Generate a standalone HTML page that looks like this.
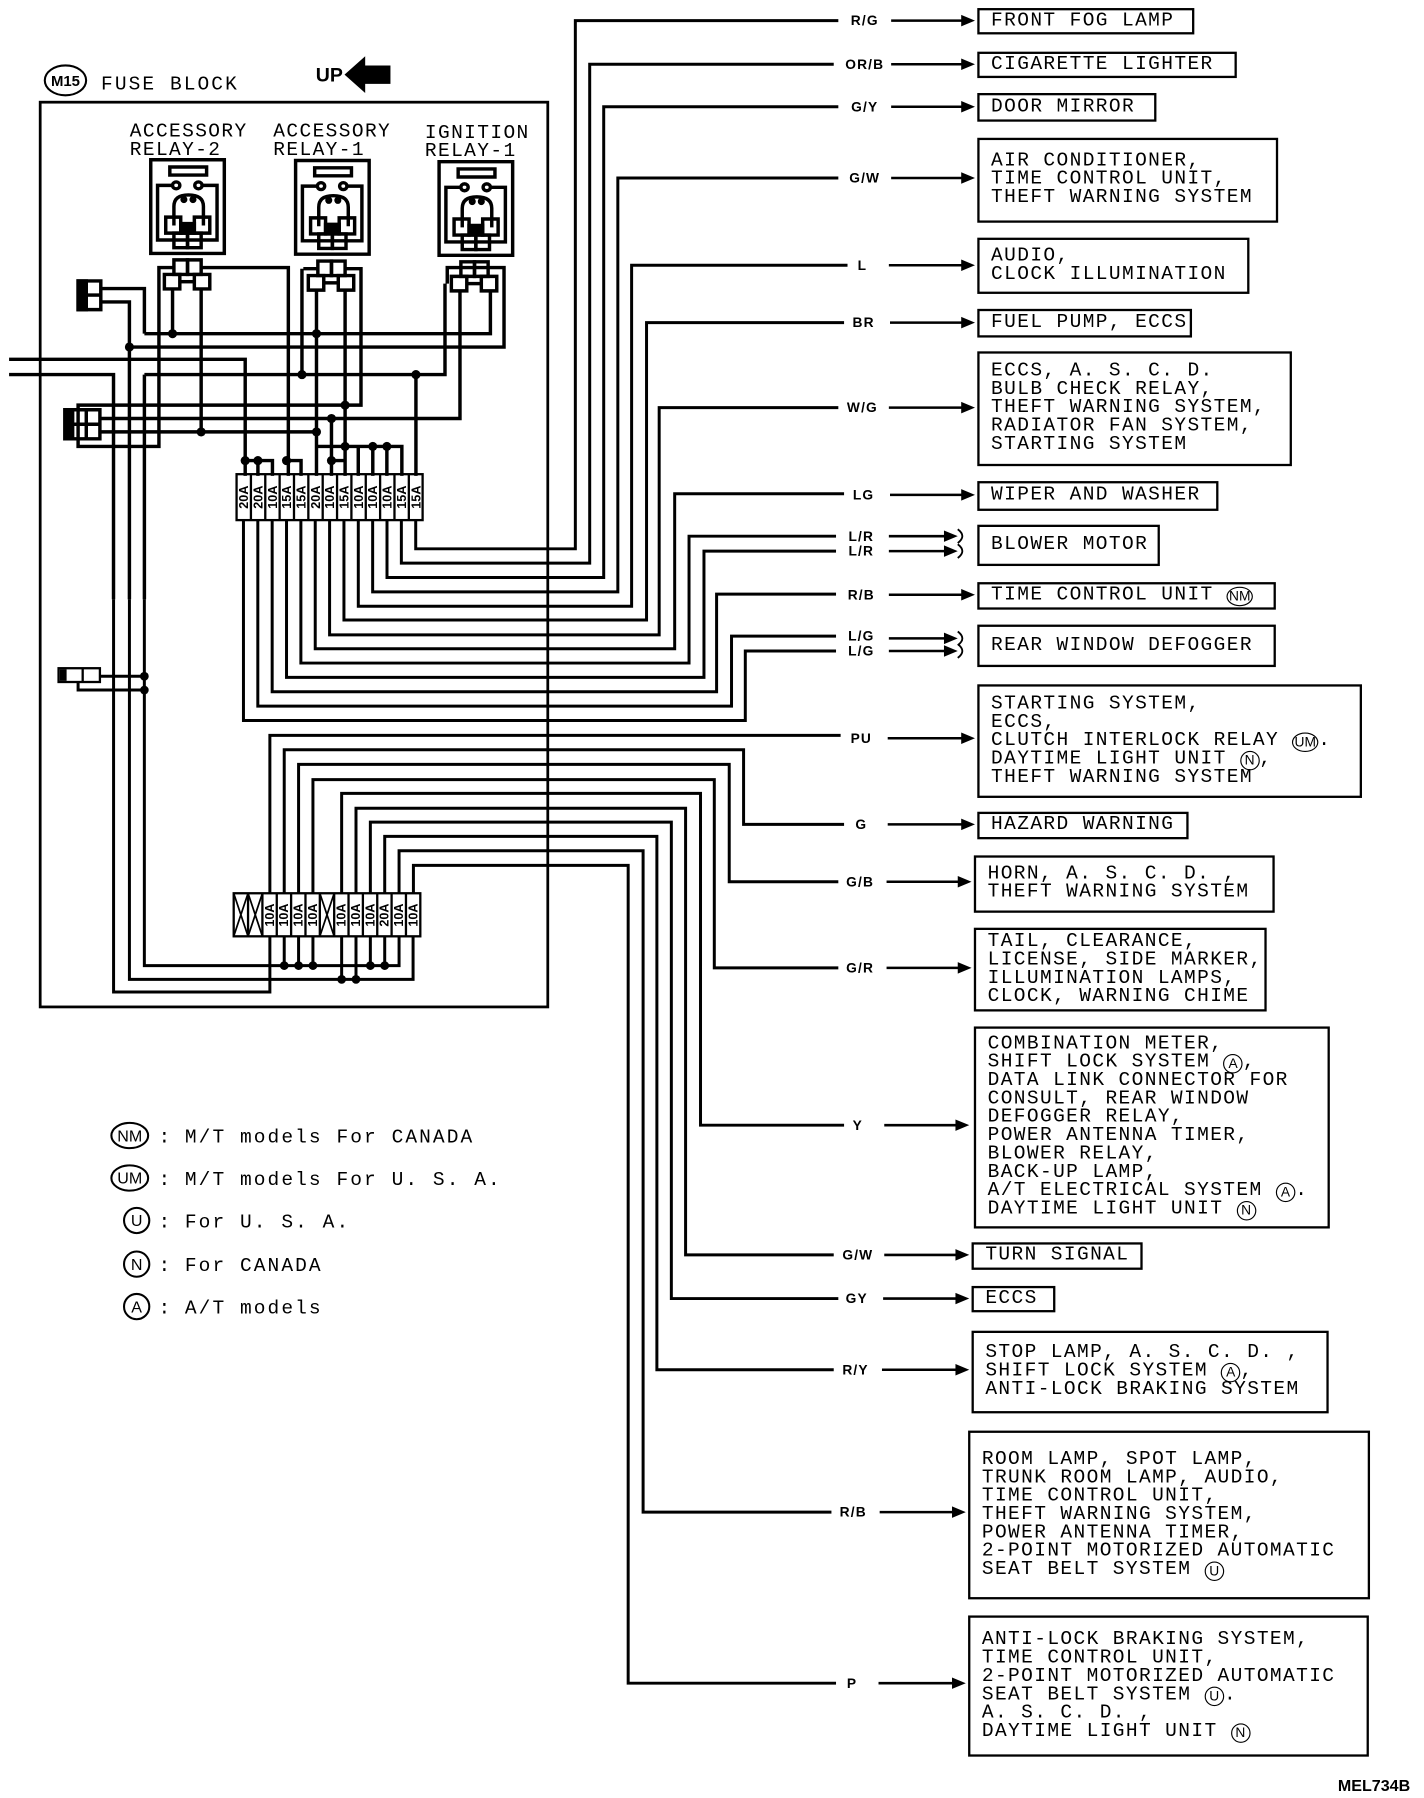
<!DOCTYPE html>
<html><head><meta charset="utf-8"><style>
html,body{margin:0;padding:0;background:#fff;width:1424px;height:1798px;overflow:hidden}
#c{position:absolute;left:0;top:0;width:1240px;height:1566px;transform:scale(1.14839,1.14815);transform-origin:0 0}
svg{position:absolute;left:0;top:0}
.b{position:absolute;border:2px solid #000;box-sizing:border-box;display:flex;flex-direction:column;justify-content:center;padding-left:10px;font-family:"Liberation Mono",monospace;font-size:17px;letter-spacing:1.2px;line-height:16px;color:#000}
.b>div{white-space:pre;height:16px}
.k{display:inline-block;border:1.5px solid #000;border-radius:50%;min-width:13px;height:15px;line-height:15px;font-size:12px;text-align:center;letter-spacing:0;padding:0 1px;vertical-align:top;font-family:"Liberation Sans",sans-serif}
.wl{font-family:"Liberation Sans",sans-serif;font-weight:bold;font-size:12px;letter-spacing:1px}
.ft{font-family:"Liberation Sans",sans-serif;font-weight:bold;font-size:11px}
.lg{font-family:"Liberation Mono",monospace;font-size:17px;letter-spacing:1.8px}
</style></head><body><div id="c">
<svg width="1240" height="1566" viewBox="0 0 1240 1566">
<defs>
<g id="rl" fill="none" stroke="#000" stroke-width="3">
<rect x="332" y="418" width="162" height="245" vector-effect="non-scaling-stroke"/>
<rect x="374" y="437" width="81" height="21" vector-effect="non-scaling-stroke"/>
<ellipse cx="388" cy="485" rx="8" ry="9" vector-effect="non-scaling-stroke"/>
<ellipse cx="437" cy="485" rx="8" ry="9" vector-effect="non-scaling-stroke"/>
<path d="M380 485 H347 V628 H478 V485 H445 M383 590 V540 Q383 510 415 510 Q448 510 448 540 V590" vector-effect="non-scaling-stroke"/>
<rect x="365" y="568" width="33" height="42" vector-effect="non-scaling-stroke"/>
<rect x="428" y="568" width="34" height="42" vector-effect="non-scaling-stroke"/>
<rect x="398" y="585" width="30" height="25" fill="#000" vector-effect="non-scaling-stroke"/>
<rect x="383" y="610" width="30" height="38" vector-effect="non-scaling-stroke"/>
<rect x="413" y="610" width="30" height="38" vector-effect="non-scaling-stroke"/>
<ellipse cx="405" cy="522" rx="4" ry="5" vector-effect="non-scaling-stroke"/>
<ellipse cx="425" cy="522" rx="4" ry="5" vector-effect="non-scaling-stroke"/>
</g>
<g id="cn" fill="none" stroke="#000" stroke-width="3">
<rect x="383" y="680" width="30" height="38" vector-effect="non-scaling-stroke"/>
<rect x="413" y="680" width="30" height="38" vector-effect="non-scaling-stroke"/>
<rect x="362" y="718" width="34" height="38" vector-effect="non-scaling-stroke"/>
<rect x="428" y="718" width="34" height="38" vector-effect="non-scaling-stroke"/>
<path d="M396 737 H428" vector-effect="non-scaling-stroke"/>
</g>
</defs>

<ellipse cx="57" cy="70" rx="18" ry="13" fill="none" stroke="#000" stroke-width="1.8"/>
<text x="57" y="75" text-anchor="middle" font-family="Liberation Sans,sans-serif" font-size="13" font-weight="bold">M15</text>
<text x="88" y="78" class="lg">FUSE BLOCK</text>
<text x="275" y="71" font-family="Liberation Sans,sans-serif" font-size="17" font-weight="bold">UP</text>
<path d="M300 65 L318 49 V57 H340 V73 H318 V81 Z" fill="#000"/>
<rect x="35" y="89" width="442" height="788" fill="none" stroke="#000" stroke-width="2.4"/>
<g font-family="Liberation Mono,monospace" font-size="17" letter-spacing="1.2">
<text x="113" y="119">ACCESSORY</text><text x="113" y="135">RELAY-2</text>
<text x="238" y="119">ACCESSORY</text><text x="238" y="135">RELAY-1</text>
<text x="370" y="120">IGNITION</text><text x="370" y="136">RELAY-1</text>
</g>

<g transform="scale(0.3954,0.3329)" fill="none" stroke="#000" stroke-width="3">
<use href="#rl"/><use href="#rl" transform="translate(319,2)"/><use href="#rl" transform="translate(635,5)"/>
<use href="#cn"/><use href="#cn" transform="translate(317,3)"/><use href="#cn" transform="translate(632,5)"/>
<path vector-effect="non-scaling-stroke" d="M222 755 H318 V873 M318 873 H1080 V760 M222 790 H285 V1568 M285 908 H1110 V700 H985 V742 M20 940 H540 V1245 M20 980 H250 V1568 M318 980 H980 V742 M318 980 V1568"/>
<path vector-effect="non-scaling-stroke" d="M220 1060 H172 V1168 H350 V700 H383 M443 700 H635 V1245 M220 1060 H795 V703 H762 M668 703 H700 M665 703 V980 M220 1095 H1013 V765 M220 1130 H443 V756 M443 1130 H697 M380 756 V873 M697 759 V1245 M760 759 V1245 M730 1095 V1245 M730 1205 H760 M697 1168 H885 V1245 M789 1168 V1245 M821 1168 V1245 M852 1168 V1245 M540 1205 H600 V1245 M568 1205 V1245 M635 1205 H663 V1245 M916 980 V1245"/>
<rect vector-effect="non-scaling-stroke" x="143" y="1072" width="77" height="76"/>
<rect vector-effect="non-scaling-stroke" x="143" y="1072" width="17" height="76" fill="#000"/>
<path vector-effect="non-scaling-stroke" d="M190 1072 V1148 M160 1110 H220"/>
<rect vector-effect="non-scaling-stroke" x="172" y="735" width="50" height="75"/>
<rect vector-effect="non-scaling-stroke" x="172" y="735" width="18" height="75" fill="#000"/>
<path vector-effect="non-scaling-stroke" d="M190 772 H222"/>
<g fill="#000" stroke="none">
<ellipse cx="380" cy="873" rx="10" ry="12"/><ellipse cx="697" cy="873" rx="10" ry="12"/><ellipse cx="285" cy="908" rx="10" ry="12"/>
<ellipse cx="665" cy="980" rx="10" ry="12"/><ellipse cx="916" cy="980" rx="10" ry="12"/><ellipse cx="760" cy="1060" rx="10" ry="12"/>
<ellipse cx="730" cy="1095" rx="10" ry="12"/><ellipse cx="443" cy="1130" rx="10" ry="12"/><ellipse cx="697" cy="1130" rx="10" ry="12"/>
<ellipse cx="760" cy="1168" rx="10" ry="12"/><ellipse cx="821" cy="1168" rx="10" ry="12"/><ellipse cx="852" cy="1168" rx="10" ry="12"/>
<ellipse cx="540" cy="1205" rx="10" ry="12"/><ellipse cx="568" cy="1205" rx="10" ry="12"/><ellipse cx="631" cy="1205" rx="10" ry="12"/><ellipse cx="730" cy="1205" rx="10" ry="12"/>
</g>
</g>

<g fill="none" stroke="#000" stroke-width="2.6">
<path d="M112.7 522 V853 H359.7 V815.5 M98.9 522 V864 H235 V815.5 M125.7 522 V841 H347.5 V815.5"/>
<path d="M247.5 815.5 V841 M260 815.5 V841 M272.5 815.5 V841 M322.5 815.5 V841 M335 815.5 V841 M297.5 815.5 V853 M310 815.5 V853"/>
<path d="M362 453 V478 H501 V18 H730 M349.5 453 V490.5 H513.5 V56 H726 M337 453 V503 H525.7 V93 H730 M324.5 453 V515.5 H538 V155 H730 M312 453 V528 H550 V231 H738 M299.5 453 V540 H563 V281 H735 M287 453 V553 H574 V355 H730 M274.5 453 V565 H587.5 V430 H735 M262 453 V577.5 H600 V467 H728 M249.5 453 V590 H613 V480 H728 M237 453 V602.5 H624 V517.5 H728 M224.5 453 V615 H637 V554 H728 M212 453 V627.5 H649 V567 H728"/>
<path d="M235 778 V640.5 H732"/>
<path d="M247.5 778 V653 H647.5 V718 H735 M260 778 V665.7 H635 V768 H730 M272.5 778 V679 H622 V843 H730 M297.5 778 V691 H610 V980 H735 M310 778 V704 H597 V1093 H726 M322.5 778 V716 H584.6 V1131 H730 M335 778 V728.5 H572 V1193 H726 M347.5 778 V741 H560 V1317 H724 M360 778 V753.7 H547 V1466 H728"/>
<path d="M87 589 H125.7 M68 594 V601 H125.7"/>
<rect x="51" y="582" width="36" height="12" stroke-width="2"/>
<path d="M72 582 V594" stroke-width="2"/>
</g>
<rect x="52" y="583" width="6" height="10" fill="#000"/>
<g fill="#000">
<circle cx="125.7" cy="589" r="3.8"/><circle cx="125.7" cy="601" r="3.8"/>
<circle cx="247.5" cy="841" r="3.8"/><circle cx="260" cy="841" r="3.8"/><circle cx="272.5" cy="841" r="3.8"/>
<circle cx="322.5" cy="841" r="3.8"/><circle cx="335" cy="841" r="3.8"/>
<circle cx="297.5" cy="853" r="3.8"/><circle cx="310" cy="853" r="3.8"/>
</g>

<g stroke="#000" fill="none" stroke-width="2">
<rect x="206" y="413" width="162" height="40"/>
<path d="M218.5 413V453M231 413V453M243.5 413V453M256 413V453M268.5 413V453M281 413V453M293.5 413V453M306 413V453M318.5 413V453M331 413V453M343.5 413V453M356 413V453"/>
<rect x="203.5" y="778" width="162.5" height="37.5"/>
<path d="M216 778V815.5M228.5 778V815.5M241 778V815.5M253.5 778V815.5M266 778V815.5M278.5 778V815.5M291 778V815.5M303.5 778V815.5M316 778V815.5M328.5 778V815.5M341 778V815.5M353.5 778V815.5"/>
<path d="M203.5 778 L216 815.5 M216 778 L203.5 815.5 M216 778 L228.5 815.5 M228.5 778 L216 815.5 M278.5 778 L291 815.5 M291 778 L278.5 815.5" stroke-width="1.5"/>
</g>
<g class="ft" text-anchor="middle">
<text transform="translate(216,433) rotate(-90)">20A</text>
<text transform="translate(228.5,433) rotate(-90)">20A</text>
<text transform="translate(241,433) rotate(-90)">10A</text>
<text transform="translate(253.5,433) rotate(-90)">15A</text>
<text transform="translate(266,433) rotate(-90)">15A</text>
<text transform="translate(278.5,433) rotate(-90)">20A</text>
<text transform="translate(291,433) rotate(-90)">10A</text>
<text transform="translate(303.5,433) rotate(-90)">15A</text>
<text transform="translate(316,433) rotate(-90)">10A</text>
<text transform="translate(328.5,433) rotate(-90)">10A</text>
<text transform="translate(341,433) rotate(-90)">10A</text>
<text transform="translate(353.5,433) rotate(-90)">15A</text>
<text transform="translate(366,433) rotate(-90)">15A</text>
<text transform="translate(238.5,797) rotate(-90)">10A</text>
<text transform="translate(251,797) rotate(-90)">10A</text>
<text transform="translate(263.5,797) rotate(-90)">10A</text>
<text transform="translate(276,797) rotate(-90)">10A</text>
<text transform="translate(301,797) rotate(-90)">10A</text>
<text transform="translate(313.5,797) rotate(-90)">10A</text>
<text transform="translate(326,797) rotate(-90)">10A</text>
<text transform="translate(338.5,797) rotate(-90)">20A</text>
<text transform="translate(351,797) rotate(-90)">10A</text>
<text transform="translate(363.5,797) rotate(-90)">10A</text>
</g>

<g class="wl" text-anchor="middle">
<text x="753" y="22">R/G</text><text x="753" y="60">OR/B</text><text x="753" y="97">G/Y</text>
<text x="753" y="159">G/W</text><text x="751" y="235">L</text><text x="752" y="285">BR</text>
<text x="751" y="359">W/G</text><text x="752" y="435">LG</text>
<text x="750" y="471">L/R</text><text x="750" y="484">L/R</text>
<text x="750" y="522">R/B</text>
<text x="750" y="558">L/G</text><text x="750" y="571">L/G</text>
<text x="750" y="647">PU</text><text x="750" y="722">G</text><text x="749" y="772">G/B</text>
<text x="749" y="847">G/R</text><text x="747" y="984">Y</text><text x="747" y="1097">G/W</text>
<text x="746" y="1135">GY</text><text x="745" y="1197">R/Y</text><text x="743" y="1321">R/B</text>
<text x="742" y="1470">P</text>
</g>
<g stroke="#000" stroke-width="2.2" fill="none">
<path d="M776 18H838M776 56H838M776 93H838M776 155H838M774 231H838M775 281H838M774 355H838M775 431H838M774 518H838M773 643H838M773 718H838M772 768H835M772 843H835M770 980H833M770 1093H833M769 1131H833M768 1193H833M766 1317H830M765 1466H830"/>
<path d="M774 467H824M774 480H824M774 556H824M774 567H824"/>
<path d="M834 461 Q842 467 834 473 M834 474 Q842 480 834 486 M834 550 Q842 556 834 562 M834 561 Q842 567 834 573" stroke-width="1.6"/>
</g>
<g fill="#000">
<path d="M849 18l-12-5v10z M849 56l-12-5v10z M849 93l-12-5v10z M849 155l-12-5v10z M849 231l-12-5v10z M849 281l-12-5v10z M849 355l-12-5v10z M849 431l-12-5v10z M849 518l-12-5v10z M849 643l-12-5v10z M849 718l-12-5v10z M846 768l-12-5v10z M846 843l-12-5v10z M844 980l-12-5v10z M844 1093l-12-5v10z M844 1131l-12-5v10z M844 1193l-12-5v10z M841 1317l-12-5v10z M841 1466l-12-5v10z"/>
<path d="M834 467l-12-5v10z M834 480l-12-5v10z M834 556l-12-5v10z M834 567l-12-5v10z"/>
</g>

<g fill="none" stroke="#000" stroke-width="1.8">
<ellipse cx="113" cy="989" rx="16" ry="11"/><ellipse cx="113" cy="1026" rx="16" ry="11"/>
<circle cx="119" cy="1063" r="11"/><circle cx="119" cy="1101" r="11"/><circle cx="119" cy="1138" r="11"/>
</g>
<g font-family="Liberation Sans,sans-serif" font-size="14" text-anchor="middle">
<text x="113" y="994">NM</text><text x="113" y="1031">UM</text><text x="119" y="1068">U</text><text x="119" y="1106">N</text><text x="119" y="1143">A</text>
</g>
<g class="lg">
<text x="138" y="995">:</text><text x="161" y="995">M/T models For CANADA</text>
<text x="138" y="1032">:</text><text x="161" y="1032">M/T models For U. S. A.</text>
<text x="138" y="1069">:</text><text x="161" y="1069">For U. S. A.</text>
<text x="138" y="1107">:</text><text x="161" y="1107">For CANADA</text>
<text x="138" y="1144">:</text><text x="161" y="1144">A/T models</text>
</g>
<text x="1228" y="1560" text-anchor="end" font-family="Liberation Sans,sans-serif" font-weight="bold" font-size="14">MEL734B</text>
</svg>

<div class="b" style="left:851px;top:7px;width:189px;height:23px"><div>FRONT FOG LAMP</div></div>
<div class="b" style="left:851px;top:45px;width:226px;height:23px"><div>CIGARETTE LIGHTER</div></div>
<div class="b" style="left:851px;top:81px;width:156px;height:25px"><div>DOOR MIRROR</div></div>
<div class="b" style="left:851px;top:120px;width:262px;height:74px"><div>AIR CONDITIONER,</div><div>TIME CONTROL UNIT,</div><div>THEFT WARNING SYSTEM</div></div>
<div class="b" style="left:851px;top:207px;width:237px;height:49px"><div>AUDIO,</div><div>CLOCK ILLUMINATION</div></div>
<div class="b" style="left:851px;top:269px;width:187px;height:25px"><div>FUEL PUMP, ECCS</div></div>
<div class="b" style="left:851px;top:306px;width:274px;height:100px"><div>ECCS, A. S. C. D.</div><div>BULB CHECK RELAY,</div><div>THEFT WARNING SYSTEM,</div><div>RADIATOR FAN SYSTEM,</div><div>STARTING SYSTEM</div></div>
<div class="b" style="left:851px;top:419px;width:210px;height:26px"><div>WIPER AND WASHER</div></div>
<div class="b" style="left:851px;top:457px;width:159px;height:36px"><div>BLOWER MOTOR</div></div>
<div class="b" style="left:851px;top:507px;width:260px;height:24px"><div>TIME CONTROL UNIT <span class="k">NM</span></div></div>
<div class="b" style="left:851px;top:544px;width:260px;height:37px"><div>REAR WINDOW DEFOGGER</div></div>
<div class="b" style="left:851px;top:596px;width:335px;height:99px"><div>STARTING SYSTEM,</div><div>ECCS,</div><div>CLUTCH INTERLOCK RELAY <span class="k">UM</span>.</div><div>DAYTIME LIGHT UNIT <span class="k">N</span>,</div><div>THEFT WARNING SYSTEM</div></div>
<div class="b" style="left:851px;top:707px;width:184px;height:24px"><div>HAZARD WARNING</div></div>
<div class="b" style="left:848px;top:745px;width:262px;height:50px"><div>HORN, A. S. C. D. ,</div><div>THEFT WARNING SYSTEM</div></div>
<div class="b" style="left:848px;top:808px;width:255px;height:73px"><div>TAIL, CLEARANCE,</div><div>LICENSE, SIDE MARKER,</div><div>ILLUMINATION LAMPS,</div><div>CLOCK, WARNING CHIME</div></div>
<div class="b" style="left:848px;top:894px;width:310px;height:176px"><div>COMBINATION METER,</div><div>SHIFT LOCK SYSTEM <span class="k">A</span>,</div><div>DATA LINK CONNECTOR FOR</div><div>CONSULT, REAR WINDOW</div><div>DEFOGGER RELAY,</div><div>POWER ANTENNA TIMER,</div><div>BLOWER RELAY,</div><div>BACK-UP LAMP,</div><div>A/T ELECTRICAL SYSTEM <span class="k">A</span>.</div><div>DAYTIME LIGHT UNIT <span class="k">N</span></div></div>
<div class="b" style="left:846px;top:1082px;width:149px;height:24px"><div>TURN SIGNAL</div></div>
<div class="b" style="left:846px;top:1120px;width:73px;height:23px"><div>ECCS</div></div>
<div class="b" style="left:846px;top:1159px;width:311px;height:72px"><div>STOP LAMP, A. S. C. D. ,</div><div>SHIFT LOCK SYSTEM <span class="k">A</span>,</div><div>ANTI-LOCK BRAKING SYSTEM</div></div>
<div class="b" style="left:843px;top:1246px;width:350px;height:147px"><div>ROOM LAMP, SPOT LAMP,</div><div>TRUNK ROOM LAMP, AUDIO,</div><div>TIME CONTROL UNIT,</div><div>THEFT WARNING SYSTEM,</div><div>POWER ANTENNA TIMER,</div><div>2-POINT MOTORIZED AUTOMATIC</div><div>SEAT BELT SYSTEM <span class="k">U</span></div></div>
<div class="b" style="left:843px;top:1407px;width:349px;height:123px"><div>ANTI-LOCK BRAKING SYSTEM,</div><div>TIME CONTROL UNIT,</div><div>2-POINT MOTORIZED AUTOMATIC</div><div>SEAT BELT SYSTEM <span class="k">U</span>.</div><div>A. S. C. D. ,</div><div>DAYTIME LIGHT UNIT <span class="k">N</span></div></div>
</div></body></html>
